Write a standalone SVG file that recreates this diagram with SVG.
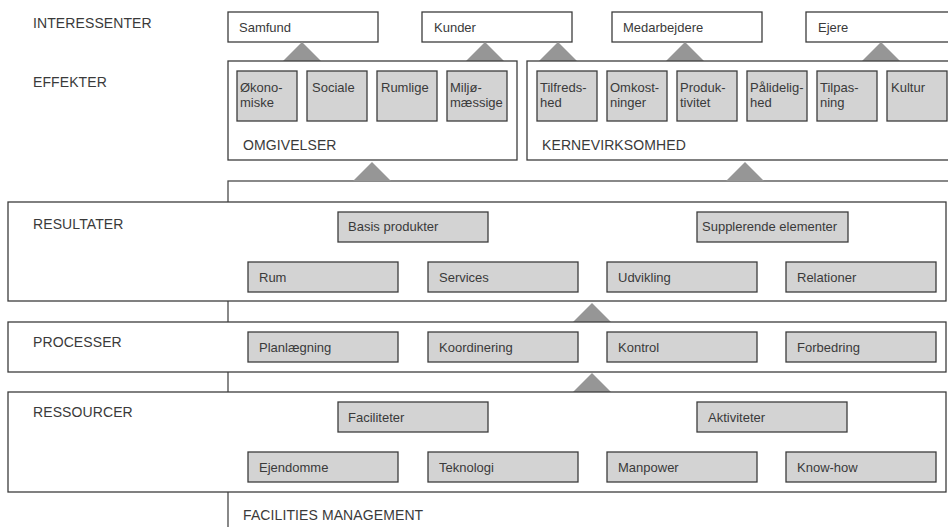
<svg xmlns="http://www.w3.org/2000/svg" width="948" height="527" viewBox="0 0 948 527">
<style>
.frame{fill:#fff;stroke:#4a4a4a;stroke-width:1.3}
.box{fill:#fff;stroke:#3c3c3c;stroke-width:1.3}
.g{fill:#d3d3d3;stroke:#3c3c3c;stroke-width:1.3}
.tri{fill:#969696;stroke:none}
.lbl{font-family:"Liberation Sans",Arial,sans-serif;font-size:14px;fill:#3a3a3a;letter-spacing:0.1px}
.t{font-family:"Liberation Sans",Arial,sans-serif;font-size:13px;fill:#3a3a3a}
</style>
<rect width="948" height="527" fill="#fff"/>

<!-- background facilities management frame -->
<g id="fm-frame">
<rect class="frame" x="228" y="181" width="730" height="360"/>
<text class="lbl" x="243" y="520">FACILITIES MANAGEMENT</text>
</g>

<!-- left labels -->
<g id="labels">
<text class="lbl" x="33" y="28">INTERESSENTER</text>
<text class="lbl" x="33" y="87">EFFEKTER</text>
</g>

<!-- stakeholders -->
<g id="samfund"><rect class="box" x="228" y="12" width="150" height="30"/><text class="t" x="239" y="32">Samfund</text></g>
<g id="kunder"><rect class="box" x="422" y="12" width="150" height="30"/><text class="t" x="434" y="32">Kunder</text></g>
<g id="medarbejdere"><rect class="box" x="612" y="12" width="150" height="30"/><text class="t" x="623" y="32">Medarbejdere</text></g>
<g id="ejere"><rect class="box" x="806" y="12" width="150" height="30"/><text class="t" x="818" y="32">Ejere</text></g>

<!-- connectors (triangles) -->
<g id="connectors">
<polygon class="tri" points="283,61 321,61 302,42"/>
<polygon class="tri" points="466,61 504,61 485,42"/>
<polygon class="tri" points="539,61 577,61 558,42"/>
<polygon class="tri" points="666,61 704,61 685,42"/>
<polygon class="tri" points="862,61 900,61 881,42"/>
<polygon class="tri" points="353,181 391,181 372,162"/>
<polygon class="tri" points="726,181 764,181 745,162"/>
<polygon class="tri" points="573,322 611,322 592,303"/>
<polygon class="tri" points="573,392 611,392 592,373"/>
</g>

<!-- omgivelser -->
<g id="omgivelser">
<rect class="box" x="228" y="61" width="289" height="99"/>
<text class="lbl" x="243" y="150">OMGIVELSER</text>
<g id="okonomiske"><rect class="g" x="237" y="71" width="60" height="50"/><text class="t" x="240" y="92">Økono-</text><text class="t" x="240" y="107">miske</text></g>
<g id="sociale"><rect class="g" x="307" y="71" width="60" height="50"/><text class="t" x="312" y="92">Sociale</text></g>
<g id="rumlige"><rect class="g" x="377" y="71" width="60" height="50"/><text class="t" x="381" y="92">Rumlige</text></g>
<g id="miljomaessige"><rect class="g" x="447" y="71" width="60" height="50"/><text class="t" x="450" y="92">Miljø-</text><text class="t" x="450" y="107">mæssige</text></g>
</g>

<!-- kernevirksomhed -->
<g id="kernevirksomhed">
<rect class="box" x="527" y="61" width="430" height="99"/>
<text class="lbl" x="542" y="150">KERNEVIRKSOMHED</text>
<g id="tilfredshed"><rect class="g" x="537" y="71" width="60" height="50"/><text class="t" x="540" y="92">Tilfreds-</text><text class="t" x="540" y="107">hed</text></g>
<g id="omkostninger"><rect class="g" x="607" y="71" width="60" height="50"/><text class="t" x="610" y="92">Omkost-</text><text class="t" x="610" y="107">ninger</text></g>
<g id="produktivitet"><rect class="g" x="677" y="71" width="60" height="50"/><text class="t" x="680" y="92">Produk-</text><text class="t" x="680" y="107">tivitet</text></g>
<g id="palidelighed"><rect class="g" x="747" y="71" width="60" height="50"/><text class="t" x="750" y="92">Pålidelig-</text><text class="t" x="750" y="107">hed</text></g>
<g id="tilpasning"><rect class="g" x="817" y="71" width="60" height="50"/><text class="t" x="820" y="92">Tilpas-</text><text class="t" x="820" y="107">ning</text></g>
<g id="kultur"><rect class="g" x="887" y="71" width="60" height="50"/><text class="t" x="891" y="92">Kultur</text></g>
</g>

<!-- resultater -->
<g id="resultater">
<rect class="box" x="8" y="202" width="938" height="99"/>
<text class="lbl" x="33" y="229">RESULTATER</text>
<g id="basis-produkter"><rect class="g" x="338" y="212" width="150" height="30"/><text class="t" x="348" y="231">Basis produkter</text></g>
<g id="supplerende-elementer"><rect class="g" x="697" y="212" width="151" height="30"/><text class="t" x="702" y="231">Supplerende elementer</text></g>
<g id="rum"><rect class="g" x="248" y="262" width="150" height="30"/><text class="t" x="259" y="282">Rum</text></g>
<g id="services"><rect class="g" x="428" y="262" width="150" height="30"/><text class="t" x="439" y="282">Services</text></g>
<g id="udvikling"><rect class="g" x="607" y="262" width="150" height="30"/><text class="t" x="618" y="282">Udvikling</text></g>
<g id="relationer"><rect class="g" x="786" y="262" width="150" height="30"/><text class="t" x="797" y="282">Relationer</text></g>
</g>

<!-- processer -->
<g id="processer">
<rect class="box" x="8" y="322" width="938" height="50"/>
<text class="lbl" x="33" y="347">PROCESSER</text>
<g id="planlaegning"><rect class="g" x="248" y="332" width="150" height="30"/><text class="t" x="259" y="352">Planlægning</text></g>
<g id="koordinering"><rect class="g" x="428" y="332" width="150" height="30"/><text class="t" x="439" y="352">Koordinering</text></g>
<g id="kontrol"><rect class="g" x="607" y="332" width="150" height="30"/><text class="t" x="618" y="352">Kontrol</text></g>
<g id="forbedring"><rect class="g" x="786" y="332" width="150" height="30"/><text class="t" x="797" y="352">Forbedring</text></g>
</g>

<!-- ressourcer -->
<g id="ressourcer">
<rect class="box" x="8" y="392" width="938" height="100"/>
<text class="lbl" x="33" y="417">RESSOURCER</text>
<g id="faciliteter"><rect class="g" x="338" y="402" width="150" height="30"/><text class="t" x="348" y="422">Faciliteter</text></g>
<g id="aktiviteter"><rect class="g" x="697" y="402" width="150" height="30"/><text class="t" x="708" y="422">Aktiviteter</text></g>
<g id="ejendomme"><rect class="g" x="248" y="452" width="150" height="30"/><text class="t" x="259" y="472">Ejendomme</text></g>
<g id="teknologi"><rect class="g" x="428" y="452" width="150" height="30"/><text class="t" x="439" y="472">Teknologi</text></g>
<g id="manpower"><rect class="g" x="607" y="452" width="150" height="30"/><text class="t" x="618" y="472">Manpower</text></g>
<g id="know-how"><rect class="g" x="786" y="452" width="150" height="30"/><text class="t" x="797" y="472">Know-how</text></g>
</g>
</svg>
